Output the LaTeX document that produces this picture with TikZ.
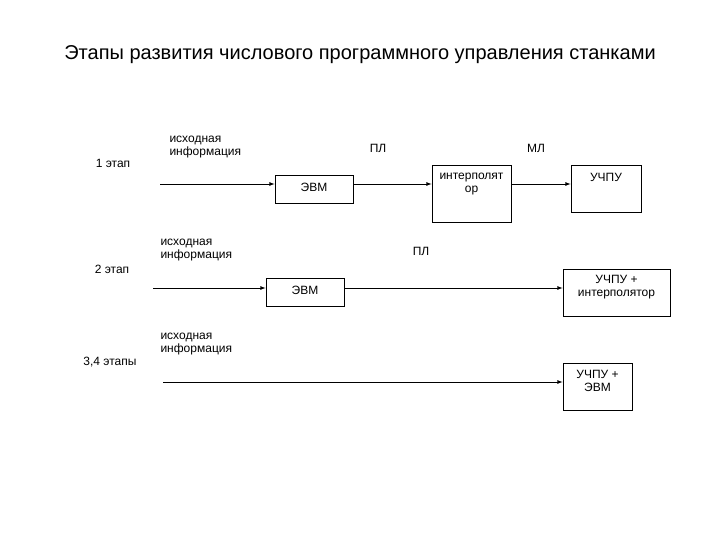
\documentclass[tikz,border=0pt]{standalone}
\usepackage{fontspec}
\setmainfont{Liberation Sans}
\begin{document}
\begin{tikzpicture}[x=1pt,y=-1pt,
  box/.style={draw,thick,minimum width=0pt,inner sep=0pt},
  lbl/.style={font=\fontsize{12}{13.5}\selectfont,align=left},
  arr/.style={-latex,thick}]
\useasboundingbox (0,0) rectangle (720,540);
\node[font=\fontsize{20}{24}\selectfont] (title) at (360,55) {Этапы развития числового программного управления станками};
% stage labels
\node[lbl] (s1) at (113,163) {1 этап};
\node[lbl] (s2) at (112,269) {2 этап};
\node[lbl] (s3) at (110,362) {3,4 этапы};
% row 1
\coordinate (a1) at (160,184);
\node[box,minimum width=78pt,minimum height=28pt] (e1) at (314,189) {};
\node[lbl] at (314,187) {ЭВМ};
\node[box,minimum width=79pt,minimum height=57pt] (i1) at (471.5,193.5) {};
\node[lbl,align=center] at (471.5,184) {интерполят\\ор};
\node[box,minimum width=70pt,minimum height=47pt] (u1) at (606,188.5) {};
\node[lbl] at (606,177) {УЧПУ};
\draw[arr] (a1) -- (a1 -| e1.west);
\draw[arr] (e1.east |- a1) -- (i1.west |- a1);
\draw[arr] (i1.east |- a1) -- (u1.west |- a1);
\node[lbl,anchor=west] (t1) at (166,147) {исходная\\информация};
\node[lbl] (p1) at (378,148) {ПЛ};
\node[lbl] (m1) at (536,148) {МЛ};
% row 2
\coordinate (a2) at (153,288);
\node[box,minimum width=78pt,minimum height=28pt] (e2) at (305,292) {};
\node[lbl] at (305,290) {ЭВМ};
\node[box,minimum width=107pt,minimum height=47pt] (u2) at (616.5,292.5) {};
\node[lbl,align=center] at (616.5,287) {УЧПУ +\\интерполятор};
\draw[arr] (a2) -- (a2 -| e2.west);
\draw[arr] (e2.east |- a2) -- (u2.west |- a2);
\node[lbl,anchor=west] (t2) at (157,250) {исходная\\информация};
\node[lbl] (p2) at (421,251) {ПЛ};
% row 3
\coordinate (a3) at (163,382);
\node[box,minimum width=69pt,minimum height=47pt] (u3) at (597.5,386.5) {};
\node[lbl,align=center] at (597.5,381) {УЧПУ +\\ЭВМ};
\draw[arr] (a3) -- (u3.west |- a3);
\node[lbl,anchor=west] (t3) at (157,344) {исходная\\информация};
\end{tikzpicture}
\end{document}
